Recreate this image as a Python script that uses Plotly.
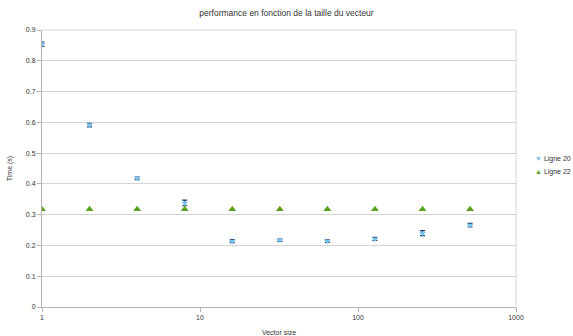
import plotly.graph_objects as go

sizes = [1, 2, 4, 8, 16, 32, 64, 128, 256, 512]
ligne20 = [0.854, 0.591, 0.418, 0.338, 0.214, 0.217, 0.214, 0.221, 0.240, 0.266]
ligne20_err = [0.007, 0.006, 0.004, 0.009, 0.005, 0.004, 0.004, 0.005, 0.008, 0.006]
ligne22 = [0.318] * 10
x_ticks = [1, 10, 100, 1000]
y_ticks = [0, 0.1, 0.2, 0.3, 0.4, 0.5, 0.6, 0.7, 0.8, 0.9]
series_names = ["Ligne 20", "Ligne 22"]
series_colors = ["#79c3f0", "#58a21e"]

fig = go.Figure()
fig.add_trace(go.Scatter(
    x=sizes, y=ligne20, mode="markers", name=series_names[0], showlegend=False,
    marker=dict(symbol="triangle-down", size=6, color=series_colors[0]),
    error_y=dict(type="data", array=ligne20_err, color="#1c3c6e", thickness=1.2, width=2.5),
))
fig.add_trace(go.Scatter(
    x=sizes, y=ligne22, mode="markers", name=series_names[1], showlegend=False,
    marker=dict(symbol="triangle-up", size=7, color=series_colors[1]),
))

font = "Liberation Sans, Arial, sans-serif"
fig.update_layout(
    width=573, height=336,
    paper_bgcolor="white", plot_bgcolor="white",
    margin=dict(l=42, r=57, t=30, b=29, autoexpand=False),
    title=dict(text="performance en fonction de la taille du vecteur", x=0.5, xanchor="center",
               y=0.97, yanchor="top", font=dict(family=font, size=8.5, color="#333333")),
    font=dict(family=font, size=7, color="#333333"),
    showlegend=False,
)
for i, (nm, col, sym) in enumerate(zip(series_names, series_colors, ["▼", "▲"])):
    fig.add_annotation(xref="paper", yref="paper", x=1.035, y=0.535 - i * 0.047,
                       xanchor="left", yanchor="middle", showarrow=False,
                       text=f"<span style='color:{col}'>{sym}</span> {nm}",
                       font=dict(family=font, size=7, color="#333333"))
fig.update_xaxes(type="log", range=[0, 3], tickvals=x_ticks, ticktext=[str(v) for v in x_ticks],
                 showgrid=False, showline=True, linecolor="#b3b3b3", linewidth=1,
                 ticks="outside", tickcolor="#b3b3b3", ticklen=4, mirror=False,
                 title=dict(text="Vector size", font=dict(size=7), standoff=9), zeroline=False)
fig.update_yaxes(range=[0, 0.9], tickvals=y_ticks, ticktext=["0"] + [f"{v:.1f}" for v in y_ticks[1:]],
                 showgrid=True, gridcolor="#d4d4d4", gridwidth=1,
                 showline=True, linecolor="#b3b3b3", linewidth=1,
                 ticks="outside", tickcolor="#b3b3b3", ticklen=4, zeroline=False,
                 title=dict(text="Time (s)", font=dict(size=7), standoff=12))
fig.add_shape(type="line", xref="paper", yref="paper", x0=1, x1=1, y0=0, y1=1,
              line=dict(color="#d4d4d4", width=1))
fig.add_shape(type="line", xref="paper", yref="paper", x0=0, x1=1, y0=1, y1=1,
              line=dict(color="#d4d4d4", width=1))
fig.write_html("out.html", config={"displayModeBar": False},
               post_script="document.body.style.margin='0px';")
